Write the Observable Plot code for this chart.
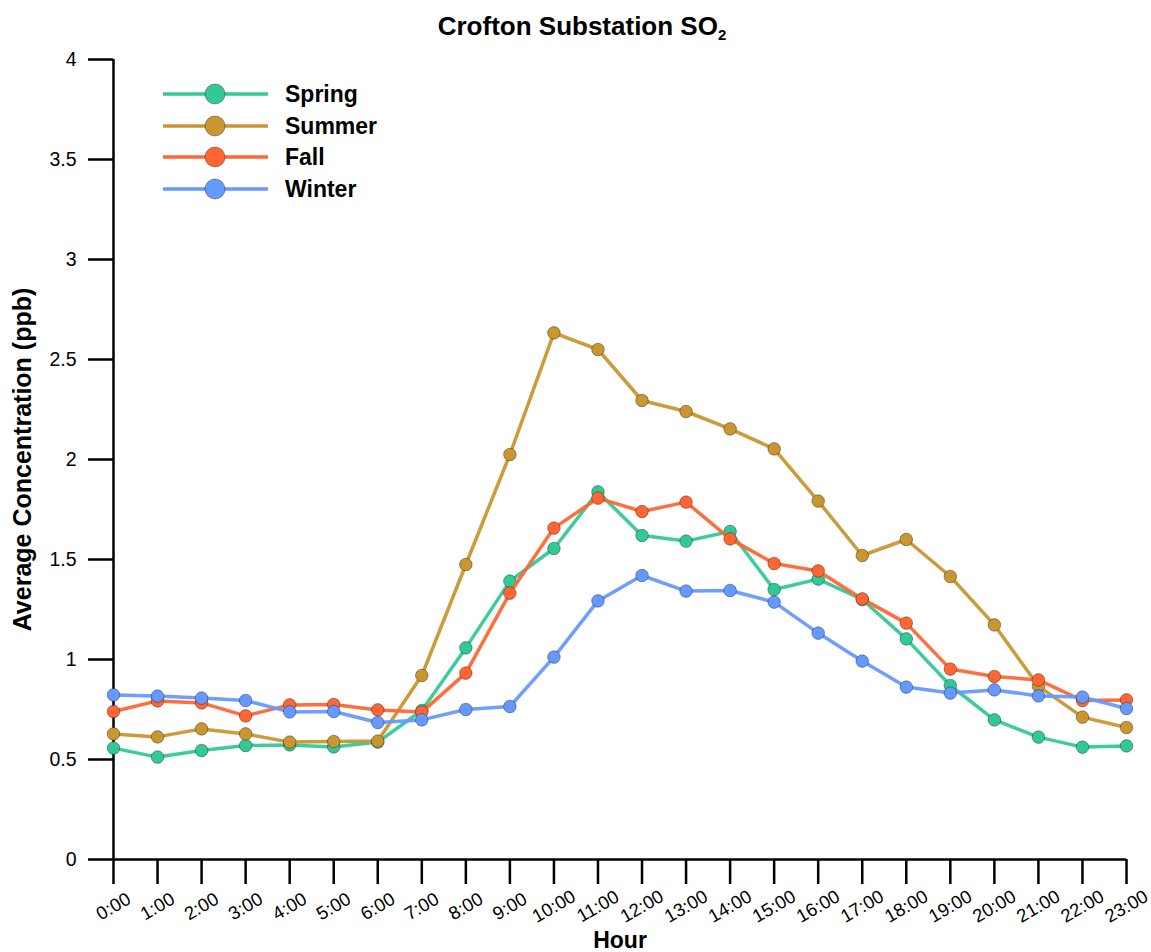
<!DOCTYPE html>
<html>
<head>
<meta charset="utf-8">
<script src="https://cdn.jsdelivr.net/npm/d3@7"></script>
<script src="https://cdn.jsdelivr.net/npm/@observablehq/plot@0.6"></script>
<style>
  body { margin: 0; background: #fff; font-family: "Liberation Sans", Arial, sans-serif; }
  #wrap { position: relative; width: 1151px; height: 952px; }
  #title { height: 45px; box-sizing: border-box; padding-top: 12px; padding-left: 13px; text-align: center;
           font-weight: bold; font-size: 26px; line-height: 28px; color: #000; }
  #title sub { font-size: 15px; vertical-align: -5px; line-height: 0; }
  .lg-row { position: absolute; left: 163px; height: 24px; }
  .lg-row svg { position: absolute; left: 0; top: 0; }
  .lg-row span { position: absolute; left: 122px; top: 0; font-weight: bold; font-size: 23px; line-height: 24px; white-space: nowrap; color: #000; }
</style>
</head>
<body>
<div id="wrap">
  <div id="title">Crofton Substation SO<sub>2</sub></div>
  <div id="chart"></div>
  <div id="legend"></div>
</div>
<script>
// ---- data ----
const hours = [0, 1, 2, 3, 4, 5, 6, 7, 8, 9, 10, 11, 12, 13, 14, 15, 16, 17, 18, 19, 20, 21, 22, 23];
const hourLabels = ["0:00","1:00","2:00","3:00","4:00","5:00","6:00","7:00","8:00","9:00","10:00","11:00",
                    "12:00","13:00","14:00","15:00","16:00","17:00","18:00","19:00","20:00","21:00","22:00","23:00"];
const seasons = ["Spring", "Summer", "Fall", "Winter"];
const seasonColors = ["#33C996", "#C9962F", "#FF6633", "#6699FF"];
const yTicks = [0, 0.5, 1, 1.5, 2, 2.5, 3, 3.5, 4];
const yTickLabels = ["0", "0.5", "1", "1.5", "2", "2.5", "3", "3.5", "4"];

const spring = [0.557, 0.512, 0.545, 0.570, 0.573, 0.563, 0.587, 0.745, 1.058, 1.392, 1.555, 1.838,
                1.620, 1.592, 1.640, 1.350, 1.402, 1.300, 1.103, 0.870, 0.698, 0.612, 0.562, 0.568];
const summer = [0.628, 0.613, 0.653, 0.628, 0.587, 0.590, 0.592, 0.920, 1.475, 2.025, 2.633, 2.550,
                2.295, 2.240, 2.153, 2.053, 1.792, 1.520, 1.600, 1.415, 1.173, 0.867, 0.712, 0.660];
const fall   = [0.740, 0.793, 0.783, 0.718, 0.773, 0.775, 0.748, 0.737, 0.932, 1.332, 1.657, 1.807,
                1.740, 1.787, 1.603, 1.480, 1.443, 1.303, 1.182, 0.952, 0.915, 0.898, 0.795, 0.798];
const winter = [0.823, 0.817, 0.807, 0.795, 0.738, 0.740, 0.685, 0.698, 0.750, 0.765, 1.012, 1.293,
                1.420, 1.342, 1.345, 1.287, 1.132, 0.992, 0.862, 0.832, 0.848, 0.818, 0.812, 0.755];
const seriesValues = [spring, summer, fall, winter];

// ---- build table ----
const data = seasons.flatMap((s, i) => seriesValues[i].map((v, h) => ({hour: hours[h], value: v, season: s})));

const seriesMarks = seasons.flatMap(s => {
  const rows = data.filter(d => d.season === s);
  return [
    Plot.line(rows, {x: "hour", y: "value", stroke: "season", strokeWidth: 3.5, strokeOpacity: 0.95}),
    Plot.dot(rows, {x: "hour", y: "value", fill: "season", r: 6.3, stroke: "#000", strokeOpacity: 0.35, strokeWidth: 1})
  ];
});

const W = 1151, H = 907, mT = 14, mB = 93, mL = 113, mR = 25;
const frameW = W - mL - mR, frameH = H - mT - mB;
const tickLen = 25, axisW = 2.5;

const chart = Plot.plot({
  width: W,
  height: H,
  marginTop: mT,
  marginBottom: mB,
  marginLeft: mL,
  marginRight: mR,
  style: {fontFamily: "'Liberation Sans', Arial, sans-serif", fontSize: "19px", color: "#000", background: "#fff", overflow: "visible"},
  x: {type: "linear", domain: [0, 23], axis: null},
  y: {domain: [0, 4], axis: null},
  color: {domain: seasons, range: seasonColors},
  marks: [
    // y ticks and labels
    Plot.ruleY(yTicks, {y: d => d, insetLeft: -tickLen, insetRight: frameW, strokeWidth: axisW, stroke: "#000"}),
    Plot.text(yTicks, {y: d => d, text: (d, i) => yTickLabels[i], frameAnchor: "left", dx: -(tickLen + 12),
                       textAnchor: "end", lineAnchor: "middle", fontSize: 19.5, fill: "#000"}),
    // x ticks and labels
    Plot.ruleX(hours, {x: d => d, insetTop: frameH, insetBottom: -tickLen, strokeWidth: axisW, stroke: "#000"}),
    Plot.text(hours, {x: d => d, text: (d, i) => hourLabels[i], frameAnchor: "bottom", dy: 47, rotate: -30,
                      textAnchor: "middle", lineAnchor: "middle", fontSize: 18.5, fill: "#000"}),
    // axis lines
    Plot.ruleX([0], {y1: 0, y2: 4, strokeWidth: axisW, stroke: "#000"}),
    Plot.ruleY([0], {x1: 0, x2: 23, strokeWidth: axisW, stroke: "#000"}),
    // axis titles
    Plot.text(["Hour"], {frameAnchor: "bottom", dy: 81, fontWeight: "bold", fontSize: 23, textAnchor: "middle", lineAnchor: "middle"}),
    Plot.text(["Average Concentration (ppb)"], {frameAnchor: "left", dx: -91, rotate: -90, fontWeight: "bold", fontSize: 25,
                      textAnchor: "middle", lineAnchor: "middle"}),
    ...seriesMarks
  ]
});
document.getElementById("chart").appendChild(chart);

// ---- legend ----
const legendRowsY = [94, 126, 157, 189];
const legend = document.getElementById("legend");
seasons.forEach((s, i) => {
  const row = document.createElement("div");
  row.className = "lg-row";
  row.style.top = (legendRowsY[i] - 12) + "px";
  row.innerHTML = `<svg width="110" height="24"><line x1="0" x2="105" y1="12" y2="12" stroke="${seasonColors[i]}" stroke-width="3.5"/>` +
    `<circle cx="52" cy="12" r="10" fill="${seasonColors[i]}" stroke="#000" stroke-opacity="0.35" stroke-width="1"/></svg>` +
    `<span>${s}</span>`;
  legend.appendChild(row);
});
</script>
</body>
</html>
